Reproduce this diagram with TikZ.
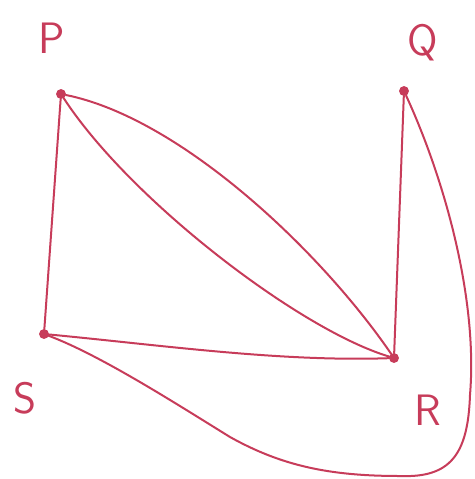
\documentclass[tikz,border=0pt]{standalone}
\usepackage{tikz}
\definecolor{inkred}{HTML}{C73C5A}
\tikzset{vertex/.style={circle, fill=inkred, draw=inkred, inner sep=0pt, minimum size=4.5pt},
  lbl/.style={text=inkred, font=\fontsize{22}{22}\sffamily},
  edge/.style={draw=inkred, line width=1pt, line cap=round}}

\begin{document}
\begin{tikzpicture}[x=0.5pt, y=-0.5pt]
\useasboundingbox (0,0) rectangle (475,479);
\node[vertex] (P) at (61,94) {};
\node[vertex] (Q) at (404,91) {};
\node[vertex] (S) at (44,334) {};
\node[vertex] (R) at (394,358) {};
\node[lbl] (lP) at (52,38) {P};
\node[lbl] (lQ) at (423,43) {Q};
\node[lbl] (lS) at (25,398) {S};
\node[lbl] (lR) at (428,410) {R};
\coordinate (bend) at (470,395);
\coordinate (low) at (400,476);
\coordinate (mid) at (230,437);

\draw[edge] (P) -- (S);
\draw[edge] (Q) -- (R);
\draw[edge] (P) .. controls (180,118) and (320,250) .. (R);
\draw[edge] (P) .. controls (130,200) and (300,330) .. (R);
\draw[edge] (S) .. controls (160,345) and (280,362) .. (R);
\draw[edge] (Q) .. controls (445,180) and (478,300) .. (bend)
  .. controls (468,455) and (450,478) .. (low)
  .. controls (330,476) and (282,466) .. (mid)
  .. controls (175,403) and (100,355) .. (S);
\end{tikzpicture}
\end{document}
